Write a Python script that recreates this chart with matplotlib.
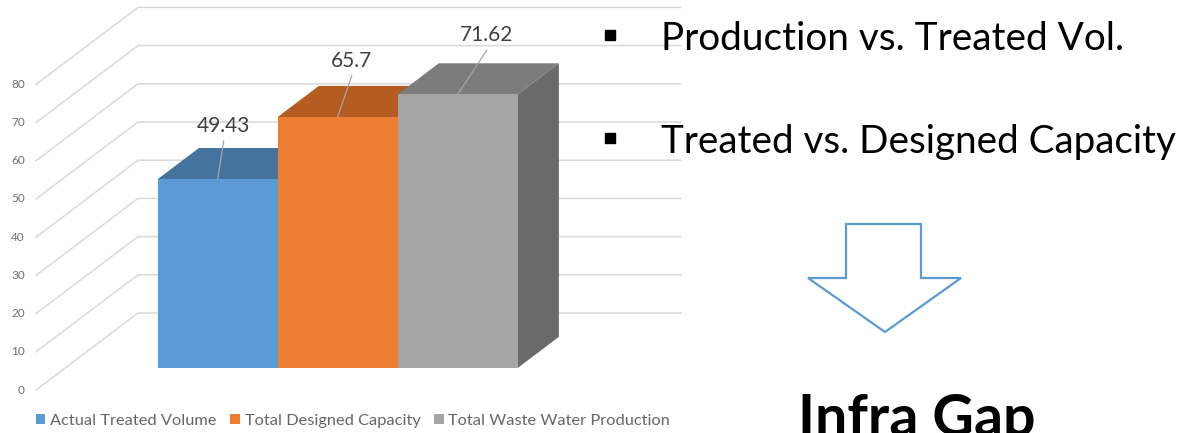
import numpy as np
import matplotlib.pyplot as plt
from matplotlib.patches import Polygon, Patch

# data
categories = ["Actual Treated Volume", "Total Designed Capacity", "Total Waste Water Production"]
values = [49.43, 65.7, 71.62]
value_labels = ["49.43", "65.7", "71.62"]
yticks = [0, 10, 20, 30, 40, 50, 60, 70, 80]
bullets = ["Production vs. Treated Vol.", "Treated vs. Designed Capacity"]
conclusion = "Infra Gap"

front_colors = ["#5B9BD5", "#ED7D31", "#A5A5A5"]
top_colors = ["#44739F", "#B45C22", "#7C7C7C"]
side_colors = ["#41709B", "#B25A20", "#6A6A6A"]

plt.rcParams["font.family"] = ["Lato", "DejaVu Sans"]

W, H = 1179, 433
fig = plt.figure(figsize=(W / 100, H / 100), dpi=100)
ax = fig.add_axes([0, 0, 1, 1])
ax.set_xlim(0, W)
ax.set_ylim(H, 0)
ax.axis("off")
renderer = fig.canvas.get_renderer()


def fit(t, width):
    # scale font so the text spans the given pixel width
    w = t.get_window_extent(renderer).width
    t.set_fontsize(t.get_fontsize() * width / w)


# oblique "3d" projection: x along front, value up, depth 0..1 to the back
px_per_unit = 3.82
floor_y = 390
depth_dx, depth_dy = 102, -77


def proj(x, v, d):
    return x + d * depth_dx, floor_y - v * px_per_unit + d * depth_dy


# walls + gridlines
wall_x0, wall_x1 = 36, 681
grid_c = "#D9D9D9"
for v in yticks:
    p0 = proj(wall_x0, v, 0)
    p1 = proj(wall_x0, v, 1)
    p2 = (wall_x1, p1[1])
    ax.plot([p0[0], p1[0], p2[0]], [p0[1], p1[1], p2[1]], color=grid_c, lw=1.1, zorder=1)
    ax.text(p0[0] - 11, p0[1], str(v), ha="right", va="center", fontsize=8.5, color="#6E6E6E")

# bars
bar_x0, bar_w = 128.5, 120
d0, d1 = 0.286, 0.69
label_dx = [6, 14, 29]
label_dy = [53, 56, 59]
for i, val in enumerate(values):
    xl = bar_x0 + i * bar_w
    xr = xl + bar_w
    front = [proj(xl, 0, d0), proj(xr, 0, d0), proj(xr, val, d0), proj(xl, val, d0)]
    top = [proj(xl, val, d0), proj(xr, val, d0), proj(xr, val, d1), proj(xl, val, d1)]
    side = [proj(xr, 0, d0), proj(xr, 0, d1), proj(xr, val, d1), proj(xr, val, d0)]
    z = 2 + i
    ax.add_patch(Polygon(side, closed=True, facecolor=side_colors[i], edgecolor="none", zorder=z))
    ax.add_patch(Polygon(top, closed=True, facecolor=top_colors[i], edgecolor="none", zorder=z))
    ax.add_patch(Polygon(front, closed=True, facecolor=front_colors[i], edgecolor="none", zorder=z))

    # data label with leader line
    cx, cy = proj(xl + bar_w / 2, val, d0)
    lx = cx + label_dx[i]
    ly = cy - label_dy[i]
    ax.plot([cx, lx], [cy, ly + 15], color="#A6A6A6", lw=0.9, zorder=6)
    ax.text(lx, ly, value_labels[i], ha="center", va="center", fontsize=15, color="#404040", zorder=7)

# legend
handles = [Patch(facecolor=c, edgecolor="none") for c in front_colors]
leg = ax.legend(handles, categories, loc="center", bbox_to_anchor=(353 / W, 1 - 421 / H),
                ncol=3, frameon=False, fontsize=11.8, handlelength=0.6, handleheight=0.6,
                handletextpad=0.3, columnspacing=0.8, borderpad=0)
for t in leg.get_texts():
    t.set_color("#666666")

# right-hand text
for i, (txt, base) in enumerate(zip(bullets, [50, 153])):
    ax.plot(610, base - 15, marker="s", ms=7, color="black", zorder=5)
    t = ax.text(661, base, txt, ha="left", va="baseline", fontsize=26, color="black")
    fit(t, [462, 514][i])

arrow = [(846, 224), (921, 224), (921, 278), (961, 278), (885, 332), (808, 278), (846, 278)]
ax.add_patch(Polygon(arrow, closed=True, facecolor="none", edgecolor="#5B9BD5", lw=1.6, zorder=5))

t = ax.text(917, 436, conclusion, ha="center", va="baseline", fontsize=34, fontweight="bold", color="black")
fit(t, 238)

fig.savefig("out.png", dpi=100)
